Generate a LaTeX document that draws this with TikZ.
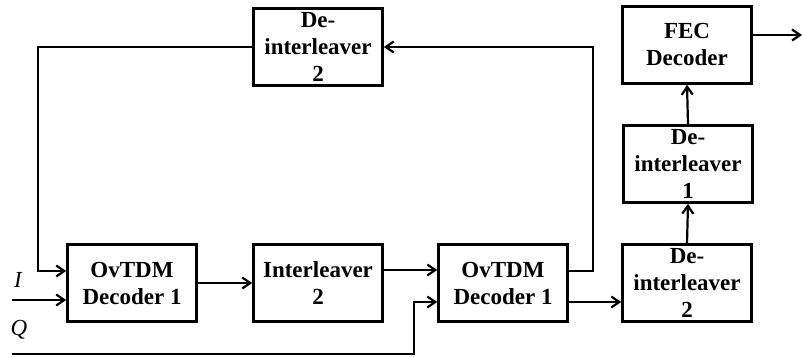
\documentclass[tikz,border=0pt]{standalone}
\usepackage{fontspec}
\setmainfont{Liberation Serif}
\usepackage{tikz}
\usetikzlibrary{arrows.meta}

\begin{document}
\begin{tikzpicture}[x=1pt,y=-1pt,
    blk/.style={draw,line width=2.6pt,minimum width=129pt,minimum height=77pt,
      inner sep=0pt,align=center,font=\fontsize{23}{27}\selectfont\bfseries},
    wire/.style={line width=2.2pt,-{Straight Barb[length=8pt,width=11pt,line width=2.2pt]}},
    lbl/.style={font=\fontsize{23}{27}\selectfont\itshape}]
  \useasboundingbox (0,0) rectangle (803,358);
  % blocks
  \node[blk] (ovtdmA) at (132,283) {OvTDM\\Decoder 1};
  \node[blk] (interl) at (318,283) {Interleaver\\2};
  \node[blk] (ovtdmB) at (503,283) {OvTDM\\Decoder 1};
  \node[blk] (deintR) at (687,283) {De-\\interleaver\\2};
  \node[blk] (deintOne) at (688,164) {De-\\interleaver\\1};
  \node[blk] (fec) at (687,45) {FEC\\Decoder};
  \node[blk] (deintTop) at (318,47) {De-\\interleaver\\2};
  % inputs
  \node[lbl] (labI) at (18,280) {I};
  \node[lbl] (labQ) at (19,330) {Q};
  \coordinate (inI) at (12,300);
  \coordinate (inQ) at (12,354);
  \coordinate (qUp) at (414,354);
  \coordinate (fbL) at (38,47);
  \coordinate (fbR) at (593,47);
  \coordinate (out) at (802,35);
  % connectors
  \draw[wire] (inI) -- ([yshift=-17pt]ovtdmA.west);
  \draw[wire] (deintTop.west) -- (fbL) |- ([yshift=12pt]ovtdmA.west);
  \draw[wire] (ovtdmA.east) -- (interl.west);
  \draw[wire] ([yshift=13pt]interl.east) -- ([yshift=13pt]ovtdmB.west);
  \draw[wire] ([yshift=12pt]ovtdmB.east) -| (fbR) -- (deintTop.east);
  \draw[wire] (inQ) -- (qUp) |- ([yshift=-19pt]ovtdmB.west);
  \draw[wire] ([yshift=-19pt]ovtdmB.east) -- ([yshift=-19pt]deintR.west);
  \draw[wire] (deintR.north) -- (deintOne.south);
  \draw[wire] (deintOne.north) -- (fec.south);
  \draw[wire] ([yshift=10pt]fec.east) -- (out);
\end{tikzpicture}
\end{document}
